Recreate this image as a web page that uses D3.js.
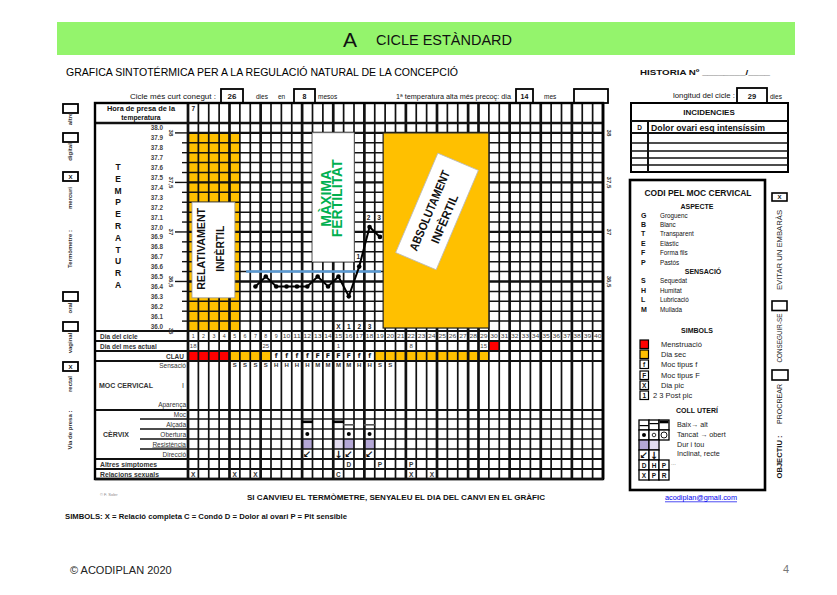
<!DOCTYPE html>
<html>
<head>
<meta charset="utf-8">
<script src="https://cdn.jsdelivr.net/npm/d3@7"></script>
<style>
  body { margin: 0; background: #fff; }
  svg { display: block; font-family: "Liberation Sans", Arial, sans-serif; }
</style>
</head>
<body>
<svg id="chart" width="837" height="595"></svg>
<script>
// ---- data read from the form ----
const days = d3.range(1, 41);
const tempLabels = d3.range(380, 359, -1).map(v => (v / 10).toFixed(1));
const tempDays = [7, 8, 9, 10, 11, 12, 13, 14, 15, 16, 17, 18, 19];
const temps = [36.4, 36.5, 36.4, 36.4, 36.4, 36.4, 36.5, 36.4, 36.5, 36.3, 36.6, 37.0, 36.9];
const tempMarkDays = [17, 18, 19];
const tempMarks = ["1", "2", "3"];
const peakDays = [15, 16, 17, 18];
const peakMarks = ["X", "1", "2", "3"];
const coverFrom = 6, coverTo = 19; // coverline between 36.5 and 36.6
const monthDays = [1, 8, 15, 22, 29];
const monthLabels = ["18", "25", "1", "8", "15"];
const nextCycleDay = 30;
const menstDays = [1, 2, 3, 4];
const dryDays = [5, 6, 7, 8, 19, 20, 21, 22, 23, 24, 25, 26, 27, 28, 29];
const mucusDays = [9, 10, 11, 12, 13, 14, 15, 16, 17, 18];
const mucusType = ["f", "f", "f", "f", "F", "F", "F", "F", "f", "f"];
const sensDays = d3.range(5, 21);
const sensValues = ["S", "S", "S", "S", "H", "H", "H", "H", "M", "M", "M", "M", "H", "H", "S", "S"];
const cervixDays = [12, 15, 16, 18];
const cervixHeight = ["alt", "alt", "mig", "mig"];
const cervixOpen = [true, false, true, true];
const cervixHard = ["dur", "tou", "dur", "dur"];
const cervixDir = ["↙", "↓", "↙", "↙"];
const otherDays = [16, 19, 22];
const otherValues = ["D", "P", "P"];
const sexDays = [1, 5, 7, 15, 22, 24];
const sexValues = ["X", "X", "X", "C", "X", "X"];
const firstHour = "7";
const axisMajor = ["38.0", "37.5", "37.0", "36.5", "36.0"];
const axisMajorText = ["38", "37,5", "37", "36,5", "36"];
const aspecte = [["G", "Groguenc"], ["B", "Blanc"], ["T", "Transparent"], ["E", "Elàstic"], ["F", "Forma fils"], ["P", "Pastós"]];
const sensacio = [["S", "Sequedat"], ["H", "Humitat"], ["L", "Lubricació"], ["M", "Mullada"]];

const ORANGE = "#ffc000", RED = "#ff0000", LAV = "#b4a7d6", LAV2 = "#e2dbef";

const svg = d3.select("#chart");
svg.append("rect").attr("width", 837).attr("height", 595).attr("fill", "#fff");

function txt(g, xx, yy, s, o = {}) {
  const t = g.append("text").attr("x", xx).attr("y", yy).text(s)
    .attr("font-size", o.size || 7)
    .attr("text-anchor", o.anchor || "start")
    .attr("fill", o.fill || "#111")
    .attr("dominant-baseline", "central");
  if (o.bold) t.attr("font-weight", "bold");
  if (o.family) t.attr("font-family", o.family);
  if (o.len) t.attr("textLength", o.len).attr("lengthAdjust", "spacingAndGlyphs");
  if (o.rot) t.attr("transform", `rotate(${o.rot},${xx},${yy})`);
  if (o.under) t.attr("text-decoration", "underline");
  return t;
}
function box(g, x0, y0, w, h, sw = 1, fill = "none", stroke = "#000") {
  return g.append("rect").attr("x", x0).attr("y", y0).attr("width", w).attr("height", h)
    .attr("fill", fill).attr("stroke", stroke).attr("stroke-width", sw);
}

// ---- header ----
const head = svg.append("g");
head.append("rect").attr("x", 57).attr("y", 22).attr("width", 738).attr("height", 33).attr("fill", "#94f46c");
txt(head, 343, 39, "A", { size: 21, fill: "#111" });
txt(head, 376, 40, "CICLE ESTÀNDARD", { size: 14, len: 136, fill: "#111" });
txt(head, 66, 72, "GRAFICA SINTOTÉRMICA PER A LA REGULACIÓ NATURAL DE LA CONCEPCIÓ", { size: 11, len: 392, fill: "#000" });
txt(head, 640, 72, "HISTORIA Nº ________/____", { size: 8, bold: true, len: 130 });

// header fields
txt(head, 216, 96, "Cicle més curt conegut :", { size: 6.5, anchor: "end", len: 86 });
box(head, 221, 89, 22, 14, 1.8); txt(head, 232, 96, "26", { size: 8, bold: true, anchor: "middle" });
txt(head, 256, 96, "dies", { size: 6.5 }); txt(head, 278, 96, "en", { size: 6.5 });
box(head, 294, 89, 21, 14, 1.8); txt(head, 304.5, 96, "8", { size: 7, bold: true, anchor: "middle" });
txt(head, 318, 96, "mesos", { size: 6.5 });
txt(head, 396, 96, "1ª temperatura alta més precoç: dia", { size: 6.5, len: 115 });
box(head, 516, 89, 17, 14, 1.8); txt(head, 524.5, 96, "14", { size: 7, bold: true, anchor: "middle" });
txt(head, 544, 96, "mes", { size: 6.5 });
box(head, 574, 89, 34, 14, 1.8);

// ---- scales ----
const gridL = 188, gridR = 603;
const x = d3.scaleBand().domain(days).range([gridL, gridR]);
const bw = x.bandwidth();
const yT = d3.scaleBand().domain(tempLabels).range([123, 331]);
const bh = yT.bandwidth();
const cxd = d => x(d) + bw / 2;
const tyv = v => yT(v.toFixed(1)) + bh / 2;

const rowsY = {
  hora: [103, 123], cicle: [331, 341], mes: [341, 351], clau: [351, 361], moc: [361, 410],
  cmoc: [410, 419], alcada: [419, 429], obertura: [429, 439], resist: [439, 449], direccio: [449, 459],
  altres: [459, 469], relacions: [469, 479]
};
const rc = k => (rowsY[k][0] + rowsY[k][1]) / 2;

const fills = svg.append("g");
// orange area days 1-5
fills.selectAll("rect.o").data([1, 2, 3, 4, 5]).join("rect")
  .attr("x", d => x(d)).attr("width", bw)
  .attr("y", yT("37.9")).attr("height", 331 - yT("37.9")).attr("fill", ORANGE);
// CLAU row
fills.selectAll("rect.m").data(menstDays).join("rect")
  .attr("x", d => x(d)).attr("width", bw).attr("y", rowsY.clau[0]).attr("height", 10).attr("fill", RED);
fills.selectAll("rect.d").data(dryDays).join("rect")
  .attr("x", d => x(d)).attr("width", bw).attr("y", rowsY.clau[0]).attr("height", 10).attr("fill", ORANGE);
fills.append("rect").attr("x", x(nextCycleDay)).attr("width", bw).attr("y", rowsY.mes[0]).attr("height", 10).attr("fill", RED);
// cervix hardness
fills.selectAll("rect.h").data(cervixDays).join("rect")
  .attr("x", d => x(d)).attr("width", bw).attr("y", rowsY.resist[0]).attr("height", 10)
  .attr("fill", (d, i) => cervixHard[i] === "dur" ? LAV : LAV2);

// ---- grid ----
const grid = svg.append("g").attr("stroke", "#111");
const thickCols = [0, 4, 7, 11, 14, 17, 21, 24, 27, 28, 31, 34, 37, 40];
grid.selectAll("line.v").data(d3.range(0, 41)).join("line")
  .attr("x1", i => gridL + i * bw).attr("x2", i => gridL + i * bw)
  .attr("y1", 103).attr("y2", 479)
  .attr("stroke-width", i => thickCols.includes(i) ? 2.7 : 1.7);
grid.selectAll("line.t").data(tempLabels.slice(1)).join("line")
  .attr("x1", gridL).attr("x2", gridR)
  .attr("y1", d => yT(d)).attr("y2", d => yT(d))
  .attr("stroke-width", d => ["37.9", "37.4", "36.9", "36.4"].includes(d) ? 2.3 : 1.5);
const fullRows = ["hora", "cicle", "mes", "clau", "moc", "cmoc", "altres", "relacions"];
grid.selectAll("line.r").data(fullRows).join("line")
  .attr("x1", 95).attr("x2", gridR).attr("y1", k => rowsY[k][0]).attr("y2", k => rowsY[k][0])
  .attr("stroke-width", 2.2);
grid.append("line").attr("x1", 95).attr("x2", gridR).attr("y1", 123).attr("y2", 123).attr("stroke-width", 2.4);
grid.selectAll("line.c").data(["alcada", "obertura", "resist", "direccio"]).join("line")
  .attr("x1", 140).attr("x2", gridR).attr("y1", k => rowsY[k][0]).attr("y2", k => rowsY[k][0])
  .attr("stroke-width", 1.5);
box(grid, 95, 103, gridR - 95, 376, 2.4);
grid.append("line").attr("x1", 95).attr("x2", gridR).attr("y1", 479).attr("y2", 479).attr("stroke-width", 2.6);

// ---- zone boxes ----
const zones = svg.append("g");
box(zones, x(1) + 4, yT("37.2"), x(5) + bw - 5 - (x(1) + 4), yT("36.3") + bh * 0.65 - yT("37.2"), 0.8, "#fff", "#999");
txt(zones, x(2) + 3, yT("36.8") + 7, "RELATIVAMENT", { size: 11, bold: true, anchor: "middle", rot: -90, len: 82 });
txt(zones, x(4) + 1, yT("36.8") + 7, "INFÈRTIL", { size: 11, bold: true, anchor: "middle", rot: -90, len: 46 });

box(zones, x(13), yT("37.9"), x(17) - x(13), yT("36.6") - yT("37.9"), 0.8, "#fff", "#aaa");
txt(zones, x(14) + 3, yT("37.3") + 6, "MÀXIMA", { size: 14, bold: true, anchor: "middle", rot: -90, fill: "#00b050" });
txt(zones, x(15) + 3.5, yT("37.3") + 6, "FERTILITAT", { size: 14, bold: true, anchor: "middle", rot: -90, fill: "#00b050" });

const ax0 = x(20) - 2, ax1 = x(29) + bw, ay0 = yT("37.9"), ay1 = yT("36.0") + bh * 0.7;
box(zones, ax0, ay0, ax1 - ax0, ay1 - ay0, 1.2, ORANGE, "#222");
const acx = (ax0 + ax1) / 2 + 1, acy = (ay0 + ay1) / 2 - 19;
const ab = zones.append("g").attr("transform", `translate(${acx},${acy}) rotate(-67)`);
ab.append("rect").attr("x", -54).attr("y", -22).attr("width", 108).attr("height", 44)
  .attr("fill", "#fff").attr("stroke", "#bbb").attr("stroke-width", 0.8);
txt(ab, -2, -7, "ABSOLUTAMENT", { size: 12, bold: true, anchor: "middle", len: 86 });
txt(ab, -4, 10, "INFÈRTIL", { size: 12, bold: true, anchor: "middle", len: 52 });

// ---- temperature curve ----
const curve = svg.append("g");
curve.append("line")
  .attr("x1", x(coverFrom) + bw * 0.6).attr("x2", x(coverTo) + bw * 0.6)
  .attr("y1", yT("36.5")).attr("y2", yT("36.5"))
  .attr("stroke", "#5b9bd5").attr("stroke-width", 2.6);
const pts = tempDays.map((d, i) => ({ d, t: temps[i] }));
const line = d3.line().x(p => cxd(p.d)).y(p => tyv(p.t));
curve.append("path").datum(pts).attr("d", line)
  .attr("fill", "none").attr("stroke", "#000").attr("stroke-width", 2);
curve.selectAll("circle").data(pts).join("circle")
  .attr("cx", p => cxd(p.d)).attr("cy", p => tyv(p.t)).attr("r", 2.3).attr("fill", "#000");
tempMarkDays.forEach((d, i) => {
  const yy = d3.min(pts.filter(p => p.d >= d - 1 && p.d <= d && (p.d === d || i === 2)), p => tyv(p.t));
  txt(curve, cxd(d) - 1, yy - 10, tempMarks[i], { size: 6.5, bold: true, anchor: "middle", fill: "#222" });
});
peakDays.forEach((d, i) => {
  txt(curve, cxd(d), yT("36.0") + bh / 2, peakMarks[i], { size: 6.5, bold: true, anchor: "middle", fill: "#222" });
});

// ---- cell texts ----
const cells = svg.append("g");
txt(cells, cxd(1), rc("hora") - 5, firstHour, { size: 6.5, bold: true, anchor: "middle" });
days.forEach(d => txt(cells, cxd(d), rc("cicle"), String(d), { size: 5.3, anchor: "middle", fill: "#444", len: d > 9 ? 7.5 : null }));
monthDays.forEach((d, i) => txt(cells, cxd(d), rc("mes"), monthLabels[i], { size: 6, anchor: "middle", fill: "#444" }));
mucusDays.forEach((d, i) => txt(cells, cxd(d), rc("clau"), mucusType[i], { size: 6.5, bold: true, anchor: "middle", family: "DejaVu Sans" }));
sensDays.forEach((d, i) => txt(cells, cxd(d), 365, sensValues[i], { size: 6, bold: true, anchor: "middle", fill: "#333" }));
cervixDays.forEach((d, i) => {
  const yy = cervixHeight[i] === "alt" ? rowsY.alcada[0] + 1.5 : rowsY.alcada[0] + 5;
  cells.append("rect").attr("x", x(d) - 0.5).attr("width", bw + 1).attr("y", yy)
    .attr("height", cervixHeight[i] === "alt" ? 2.6 : 1.6).attr("fill", cervixHeight[i] === "alt" ? "#000" : "#555");
  if (cervixOpen[i]) cells.append("circle").attr("cx", cxd(d)).attr("cy", rc("obertura")).attr("r", 2).attr("fill", "#000");
  txt(cells, cxd(d), rc("direccio") + 0.5, cervixDir[i], { size: 10, bold: true, anchor: "middle", family: "DejaVu Sans" });
});
otherDays.forEach((d, i) => txt(cells, cxd(d), rc("altres"), otherValues[i], { size: 6.5, bold: true, anchor: "middle", fill: "#333" }));
sexDays.forEach((d, i) => txt(cells, cxd(d), rc("relacions"), sexValues[i], { size: 6.5, bold: true, anchor: "middle", fill: "#333" }));

// ---- left label column ----
const lab = svg.append("g");
txt(lab, 141, 108.5, "Hora de presa de la", { size: 6.8, bold: true, anchor: "middle", len: 68 });
txt(lab, 141, 117.5, "temperatura", { size: 6.8, bold: true, anchor: "middle" });
"TEMPERATURA".split("").forEach((c, i) => txt(lab, 118, 167 + i * 11.8, c, { size: 8.5, bold: true, anchor: "middle" }));
tempLabels.forEach(v => txt(lab, 163, yT(v) + bh / 2, v, { size: 6.3, bold: true, anchor: "end", fill: "#444" }));
lab.selectAll("line.tk").data(tempLabels).join("line")
  .attr("x1", d => axisMajor.includes(d) ? 175 : 182).attr("x2", gridL)
  .attr("y1", d => yT(d) + bh).attr("y2", d => yT(d) + bh)
  .attr("stroke", "#111").attr("stroke-width", 1.4);
axisMajor.forEach((v, i) => {
  txt(lab, 171, yT(v) + bh, axisMajorText[i], { size: 6, bold: true, anchor: "middle", rot: 90, fill: "#333" });
  if (i < 4) txt(lab, 609, yT(v) + bh, axisMajorText[i], { size: 6, bold: true, anchor: "middle", rot: 90, fill: "#333" });
});
txt(lab, 100, rc("cicle"), "Dia del cicle", { size: 6.5, bold: true, fill: "#333" });
txt(lab, 100, rc("mes"), "Dia del mes actual", { size: 6.5, bold: true, fill: "#333" });
txt(lab, 184, rc("clau"), "CLAU", { size: 6.5, bold: true, anchor: "end", fill: "#333" });
txt(lab, 186, 365, "Sensació", { size: 6.5, anchor: "end", fill: "#333" });
txt(lab, 99, 385, "MOC CERVICAL", { size: 7, bold: true, fill: "#333" });
txt(lab, 182, 385, "I", { size: 7, fill: "#333" });
txt(lab, 186, 404, "Aparença", { size: 6.5, anchor: "end", fill: "#333" });
[["cmoc", "Moc"], ["alcada", "Alçada"], ["obertura", "Obertura"], ["resist", "Resistència"], ["direccio", "Direcció"]]
  .forEach(([k, s]) => txt(lab, 186, rc(k), s, { size: 6.5, anchor: "end", fill: "#333", under: k === "resist" }));
txt(lab, 103, 434, "CÈRVIX", { size: 7, bold: true, fill: "#333" });
txt(lab, 100, rc("altres"), "Altres símptomes", { size: 6.8, bold: true, fill: "#333" });
txt(lab, 100, rc("relacions"), "Relacions sexuals", { size: 6.8, bold: true, fill: "#333" });

// far-left thermometer / route options
const opt = svg.append("g");
[[104, false], [133, false], [172, true], [292, false], [322, false], [362, true]].forEach(([yy, on]) => {
  box(opt, 63, yy, 15, 9, 1.8);
  if (on) txt(opt, 70.5, yy + 4.5, "X", { size: 6, bold: true, anchor: "middle" });
});
[[119, "altre"], [152, "digital"], [198, "mercuri"], [249, "Termòmetre :"], [308, "oral"], [343, "vaginal"], [384, "rectal"], [430, "Via de presa :"]]
  .forEach(([yy, s]) => txt(opt, 70, yy, s, { size: 6, bold: true, anchor: "middle", rot: -90, fill: "#333" }));

// ---- right panel ----
const rp = svg.append("g");
txt(rp, 735, 95, "longitud del cicle :", { size: 6.5, anchor: "end", len: 62 });
box(rp, 737, 88, 30, 15, 1.8); txt(rp, 752, 96, "29", { size: 7.5, bold: true, anchor: "middle" });
txt(rp, 770, 96, "dies", { size: 6.5 });
box(rp, 631, 103, 157, 69, 2);
txt(rp, 709, 112.5, "INCIDENCIES", { size: 8, bold: true, anchor: "middle" });
[121, 133, 143, 151, 158, 165].forEach((yy, i) => rp.append("line").attr("x1", 631).attr("x2", 788)
  .attr("y1", yy).attr("y2", yy).attr("stroke", "#111").attr("stroke-width", i < 2 ? 2 : 1.3));
rp.append("line").attr("x1", 648).attr("x2", 648).attr("y1", 121).attr("y2", 172).attr("stroke", "#111").attr("stroke-width", 2);
txt(rp, 639.5, 127.5, "D", { size: 6.5, bold: true, anchor: "middle" });
txt(rp, 651, 127.5, "Dolor ovari esq intensíssim", { size: 8.5, bold: true, under: true, len: 114 });

box(rp, 630, 180, 135, 310, 2.6);
txt(rp, 698, 192.5, "CODI PEL MOC CERVICAL", { size: 8.5, bold: true, anchor: "middle", len: 107 });
txt(rp, 697, 206, "ASPECTE", { size: 7, bold: true, anchor: "middle" });
aspecte.forEach(([k, s], i) => {
  txt(rp, 641, 215 + i * 9.4, k, { size: 7, bold: true });
  txt(rp, 660, 215 + i * 9.4, s, { size: 6.3 });
});
txt(rp, 703, 215 + 6 * 9.4, "SENSACIÓ", { size: 7, bold: true, anchor: "middle" });
sensacio.forEach(([k, s], i) => {
  txt(rp, 641, 215 + (7 + i) * 9.4, k, { size: 7, bold: true });
  txt(rp, 660, 215 + (7 + i) * 9.4, s, { size: 6.3 });
});
txt(rp, 697, 330, "SIMBOLS", { size: 7, bold: true, anchor: "middle" });
const sym = [[RED, "", "Menstruació"], [ORANGE, "", "Dia sec"], ["#fff", "f", "Moc tipus f"], ["#fff", "F", "Moc tipus F"], ["#fff", "X", "Dia pic"], ["#fff", "1", "2  3 Post pic"]];
const symY = [340, 350, 360, 371, 381, 391];
sym.forEach(([c, s, l], i) => {
  box(rp, 640, symY[i], 8.5, 8.5, 1.2, c, "#000");
  if (s) txt(rp, 644.2, symY[i] + 4.5, s, { size: 6.5, bold: true, anchor: "middle" });
  txt(rp, i === 5 ? 653 : 661, symY[i] + 4.5, l, { size: 7.5, fill: "#222" });
});
txt(rp, 697, 410, "COLL UTERÍ", { size: 7, bold: true, anchor: "middle" });
const cu = rp.append("g");
const cuX = [639, 649, 659], cuY = [420, 430, 440, 450, 460, 470];
cuY.forEach((yy, r) => {
  const n = (r === 2 || r === 3) ? 2 : 3;
  for (let c = 0; c < n; c++) {
    const fill = r === 2 ? (c === 0 ? LAV : LAV2) : "#fff";
    box(cu, cuX[c], yy, 10, 10, 1.3, fill, "#000");
  }
});
cu.append("rect").attr("x", 639.5).attr("y", 425).attr("width", 9).attr("height", 1.2).attr("fill", "#000");
cu.append("rect").attr("x", 649.5).attr("y", 423).attr("width", 9).attr("height", 1.2).attr("fill", "#000");
cu.append("rect").attr("x", 659.5).attr("y", 420.5).attr("width", 9).attr("height", 2.8).attr("fill", "#000");
cu.append("circle").attr("cx", 644).attr("cy", 435).attr("r", 2).attr("fill", "#000");
cu.append("circle").attr("cx", 654).attr("cy", 435).attr("r", 1.8).attr("fill", "none").attr("stroke", "#000").attr("stroke-width", 0.8);
cu.append("circle").attr("cx", 664).attr("cy", 435).attr("r", 3).attr("fill", "none").attr("stroke", "#000").attr("stroke-width", 0.9);
txt(cu, 644, 455.5, "↙", { size: 10, bold: true, anchor: "middle", family: "DejaVu Sans" });
txt(cu, 654, 455.5, "↓", { size: 10, bold: true, anchor: "middle", family: "DejaVu Sans" });
["D", "H", "P"].forEach((s, c) => txt(cu, cuX[c] + 5, 465.5, s, { size: 6.5, bold: true, anchor: "middle" }));
["X", "P", "R"].forEach((s, c) => txt(cu, cuX[c] + 5, 475.5, s, { size: 6.5, bold: true, anchor: "middle" }));
txt(rp, 677, 424.5, "Baix→ alt", { size: 7.2, fill: "#222" });
txt(rp, 677, 434.5, "Tancat → obert", { size: 7.2, fill: "#222" });
txt(rp, 677, 444.5, "Dur i tou", { size: 7.2, fill: "#222" });
txt(rp, 677, 453.5, "Inclinat, recte", { size: 7.2, fill: "#222" });
txt(rp, 671, 463, "...", { size: 6, fill: "#777" });

// objective column
box(rp, 772, 193, 15, 8, 1.6); txt(rp, 779.5, 197, "X", { size: 6, bold: true, anchor: "middle" });
box(rp, 772, 301, 15, 9.5, 1.6);
box(rp, 772, 370, 16, 10, 1.6);
txt(rp, 779, 250, "EVITAR UN EMBARÀS", { size: 6.5, anchor: "middle", rot: -90, len: 80, fill: "#222" });
txt(rp, 779, 338, "CONSEGUIR-SE", { size: 6.5, anchor: "middle", rot: -90, len: 49, fill: "#222" });
txt(rp, 779, 404, "PROCREAR", { size: 6.5, anchor: "middle", rot: -90, len: 40, fill: "#222" });
txt(rp, 779, 457, "OBJECTIU :", { size: 6.5, bold: true, anchor: "middle", rot: -90, len: 43 });

// ---- footer ----
const ft = svg.append("g");
txt(ft, 100, 494, "© F. Soler", { size: 4, fill: "#888" });
txt(ft, 396, 497, "SI CANVIEU EL TERMÒMETRE, SENYALEU EL DIA DEL CANVI EN EL GRÀFIC", { size: 7.5, bold: true, anchor: "middle", len: 298 });
txt(ft, 701, 497, "acodiplan@gmail.com", { size: 7, anchor: "middle", fill: "#0000ee", under: true, len: 72 });
txt(ft, 65, 516, "SIMBOLS:  X = Relació completa   C = Condó   D = Dolor al ovari   P = Pit sensible", { size: 6.8, bold: true, len: 282 });
txt(ft, 70, 570, "© ACODIPLAN 2020", { size: 11, fill: "#222" });
txt(ft, 786, 569, "4", { size: 11, anchor: "middle", fill: "#777" });
</script>
</body>
</html>
